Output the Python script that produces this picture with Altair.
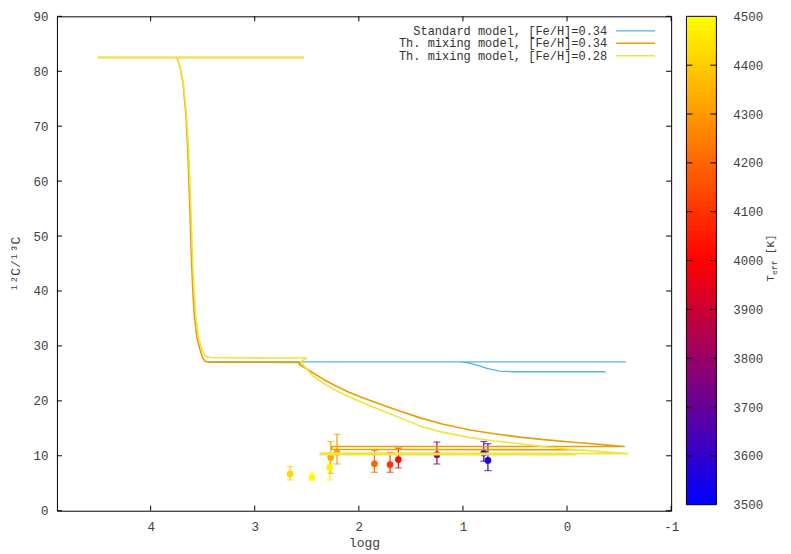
import altair as alt
import pandas as pd

# ---------------- data ----------------
model_names = ["Standard model, [Fe/H]=0.34",
               "Th. mixing model, [Fe/H]=0.34",
               "Th. mixing model, [Fe/H]=0.28"]
model_colors = ["#56b4e9", "#e69f00", "#f0e442"]
model_widths = [1.3, 1.6, 1.6]

std_logg = [3.44, 2.55, -0.56, 2.30, 1.03, 0.95, 0.85, 0.77, 0.65, 0.50, -0.37]
std_ratio = [27.1, 27.1, 27.1, 27.1, 27.1, 26.9, 26.4, 25.9, 25.4, 25.3, 25.3]

thm34_logg = [2.53, 4.50, 3.76, 3.748, 3.72, 3.688, 3.66, 3.643, 3.625, 3.611, 3.595,
              3.579, 3.555, 3.525, 3.50, 3.477, 3.44, 2.553, 2.576, 2.45, 2.34, 2.22,
              2.10, 1.97, 1.85, 1.72, 1.60, 1.41, 1.20, 0.93, 0.70, 0.455, 0.20,
              -0.03, -0.30, -0.55, 2.26, 2.26, -0.11]
thm34_ratio = [82.5, 82.5, 82.5, 82.4, 81.0, 77.8, 72.0, 65.6, 56.0, 47.5, 40.0,
               35.3, 31.5, 29.3, 27.8, 27.2, 27.05, 27.0, 26.7, 25.2, 23.9, 22.7,
               21.6, 20.6, 19.8, 18.9, 18.1, 16.9, 15.8, 14.7, 14.0, 13.4, 12.9,
               12.5, 12.1, 11.7, 11.7, 11.2, 11.1]

thm28_logg = [2.53, 4.50, 3.76, 3.748, 3.72, 3.685, 3.655, 3.635, 3.615, 3.60, 3.583,
              3.565, 3.54, 3.51, 3.48, 3.46, 3.42, 2.50, 2.56, 2.45, 2.34, 2.22,
              2.10, 1.97, 1.85, 1.72, 1.60, 1.41, 1.20, 0.93, 0.70, 0.455, 0.20,
              -0.03, -0.30, -0.58, 2.37, 2.37, -0.09]
thm28_ratio = [82.5, 82.5, 82.5, 82.4, 81.0, 77.8, 72.0, 65.6, 56.0, 47.5, 40.0,
               35.3, 31.5, 29.5, 28.3, 28.0, 27.85, 27.8, 27.1, 24.7, 23.2, 21.9,
               20.8, 19.7, 18.8, 17.8, 16.9, 15.4, 14.3, 13.3, 12.7, 12.2, 11.6,
               11.2, 10.8, 10.4, 10.5, 10.2, 10.2]

star_logg = [2.66, 2.45, 2.28, 2.27, 2.21, 1.85, 1.70, 1.62, 1.25, 0.80, 0.76]
star_ratio = [6.7, 6.1, 7.9, 9.7, 10.6, 8.55, 8.4, 9.3, 10.2, 10.5, 9.15]
star_lo = [5.6, 5.5, 5.6, 6.8, 8.5, 7.0, 7.0, 7.8, 8.5, 9.0, 7.3]
star_hi = [8.05, 7.0, 10.5, 12.6, 13.9, 11.0, 10.6, 11.4, 12.5, 12.6, 12.2]
star_teff = [4420, 4490, 4470, 4330, 4300, 4200, 4100, 4020, 3810, 3620, 3570]

x_ticks = [4, 3, 2, 1, 0, -1]
y_ticks = [0, 10, 20, 30, 40, 50, 60, 70, 80, 90]
teff_ticks = [3500, 3600, 3700, 3800, 3900, 4000, 4100, 4200, 4300, 4400, 4500]
teff_inner_ticks = teff_ticks[1:-1]
palette_stops = [3500, 4000, 4500]
palette_colors = ["#0000ff", "#ff0000", "#ffff00"]

# ---------------- layout constants ----------------
W, H = 615, 495
CB_L, CB_R, CB_H = 630.3, 660.3, 489
FONT = "Liberation Mono"
TXT = "#404040"

xscale = alt.Scale(domain=[-1, 4.9], reverse=True, nice=False, zero=False)
yscale = alt.Scale(domain=[0, 90], nice=False, zero=False)
tscale = alt.Scale(domain=[3500, 4500], range=[CB_H, 0], nice=False, zero=False)
cscale = alt.Scale(type="linear", domain=palette_stops, range=palette_colors, interpolate="rgb")

xaxis = alt.Axis(values=x_ticks, tickSize=0, labelPadding=10, domain=False, grid=False,
                 labelFlush=False, title="logg", titleY=32, titleBaseline="middle",
                 titleFontWeight="normal",
                 labelExpr="datum.value < 0 ? '-' + abs(datum.value) : datum.label")
yaxis = alt.Axis(values=y_ticks, tickSize=0, labelPadding=9, domain=False, grid=False,
                 labelFlush=False, title="¹²C/¹³C", titleX=-41, titleY=H / 2,
                 titleAngle=270, titleAlign="center", titleBaseline="middle",
                 titleFontWeight="normal")
taxis = alt.Axis(orient="right", offset=CB_R - W, values=teff_ticks, tickSize=0, format="d",
                 labelPadding=16.5, domain=False, grid=False, labelFlush=False, title=None)


def X(f):
    return alt.X(f, type="quantitative", scale=xscale, axis=xaxis)


def Y(f):
    return alt.Y(f, type="quantitative", scale=yscale, axis=yaxis)


def TY(f):
    return alt.Y(f, type="quantitative", scale=tscale, axis=taxis)


COLOR = alt.Color("teff:Q", scale=cscale, legend=None)

# ---------------- main panel ----------------
stars = pd.DataFrame({"logg": star_logg, "ratio": star_ratio, "lo": star_lo,
                      "hi": star_hi, "teff": star_teff})
caps = pd.DataFrame({"logg": star_logg + star_logg, "val": star_lo + star_hi,
                     "teff": star_teff + star_teff})

errbars = alt.Chart(stars).mark_rule(strokeWidth=1.2).encode(
    x=X("logg"), y=Y("lo"), y2=alt.Y2("hi"), color=COLOR)
capmarks = alt.Chart(caps).mark_tick(orient="horizontal", size=7, thickness=1.2).encode(
    x=X("logg"), y=Y("val"), color=COLOR)
points = alt.Chart(stars).mark_circle(size=45, opacity=1).encode(
    x=X("logg"), y=Y("ratio"), color=COLOR)

line_layers = []
for name, col, w, lg, rt in zip(model_names, model_colors, model_widths,
                                [std_logg, thm34_logg, thm28_logg],
                                [std_ratio, thm34_ratio, thm28_ratio]):
    df = pd.DataFrame({"logg": lg, "ratio": rt, "i": list(range(len(lg)))})
    line_layers.append(
        alt.Chart(df).mark_line(color=col, strokeWidth=w, strokeJoin="round").encode(
            x=X("logg"), y=Y("ratio"), order="i:Q"))

# inward ticks on the frame
xt = pd.DataFrame({"v": x_ticks})
yt = pd.DataFrame({"v": y_ticks})
TL = 5
tick_b = alt.Chart(xt).mark_rule(color="black").encode(x=X("v"), y=alt.value(H), y2=alt.value(H - TL))
tick_t = alt.Chart(xt).mark_rule(color="black").encode(x=X("v"), y=alt.value(0), y2=alt.value(TL))
tick_l = alt.Chart(yt).mark_rule(color="black").encode(y=Y("v"), x=alt.value(0), x2=alt.value(TL))
tick_r = alt.Chart(yt).mark_rule(color="black").encode(y=Y("v"), x=alt.value(W), x2=alt.value(W - TL))

# key (legend) in the top right corner
legend_layers = []
row_y = [14.5, 27.0, 39.5]
for name, col, w, ry in zip(model_names, model_colors, model_widths, row_y):
    legend_layers.append(
        alt.Chart(pd.DataFrame({"t": [name]})).mark_text(
            align="right", baseline="middle", font=FONT, fontSize=12, color="#333333").encode(
            text="t:N", x=alt.value(551), y=alt.value(ry)))
    legend_layers.append(
        alt.Chart(pd.DataFrame({"t": [name]})).mark_rule(color=col, strokeWidth=w).encode(
            x=alt.value(560), x2=alt.value(599), y=alt.value(ry)))

# colorbar title  T_eff [K]
title_parts = [("T", 11, 717.5, 265.7), ("eff", 8, 720.5, 259.1), ("[K]", 11, 717.5, 238.1)]
title_layers = []
for txt, fs, tx, ty in title_parts:
    title_layers.append(
        alt.Chart(pd.DataFrame({"t": [txt]})).mark_text(
            align="left", baseline="alphabetic", angle=270, font=FONT, fontSize=fs,
            color=TXT).encode(text="t:N", x=alt.value(tx), y=alt.value(ty)))

main = alt.layer(tick_b, tick_t, tick_l, tick_r, errbars, capmarks, points,
                 *line_layers, *legend_layers, *title_layers)

# ---------------- colorbar ----------------
step = 10
band_lo = list(range(3500, 4500, step))
bands = pd.DataFrame({"lo": band_lo,
                      "hi": [min(v + step * 1.3, 4500) for v in band_lo],
                      "teff": [v + step / 2 for v in band_lo]})
cb_bands = alt.Chart(bands).mark_rect(strokeWidth=0).encode(
    x=alt.value(CB_L), x2=alt.value(CB_R), y=TY("lo"), y2=alt.Y2("hi"), color=COLOR)
cb_frame = alt.Chart(pd.DataFrame({"a": [3500], "b": [4500]})).mark_rect(
    fillOpacity=0, stroke="black", strokeWidth=1).encode(
    x=alt.value(CB_L), x2=alt.value(CB_R), y=TY("a"), y2=alt.Y2("b"))
tt = pd.DataFrame({"t": teff_inner_ticks})
cb_tick_l = alt.Chart(tt).mark_rule(color="black").encode(
    y=TY("t"), x=alt.value(CB_L), x2=alt.value(CB_L + 6))
cb_tick_r = alt.Chart(tt).mark_rule(color="black").encode(
    y=TY("t"), x=alt.value(CB_R - 6), x2=alt.value(CB_R))

colorbar = alt.layer(cb_bands, cb_frame, cb_tick_l, cb_tick_r)

chart = alt.layer(main, colorbar).resolve_scale(y="independent").properties(
    width=W, height=H,
    padding={"left": 49, "top": 8, "right": 112, "bottom": 46},
    autosize=alt.AutoSizeParams(type="none"),
).configure(font=FONT).configure_view(stroke="black", strokeWidth=1).configure_axis(
    labelFont=FONT, labelFontSize=12.5, labelColor=TXT,
    titleFont=FONT, titleFontSize=13, titleColor=TXT)

chart.save("out.html", embed_options={"renderer": "svg", "actions": False})
